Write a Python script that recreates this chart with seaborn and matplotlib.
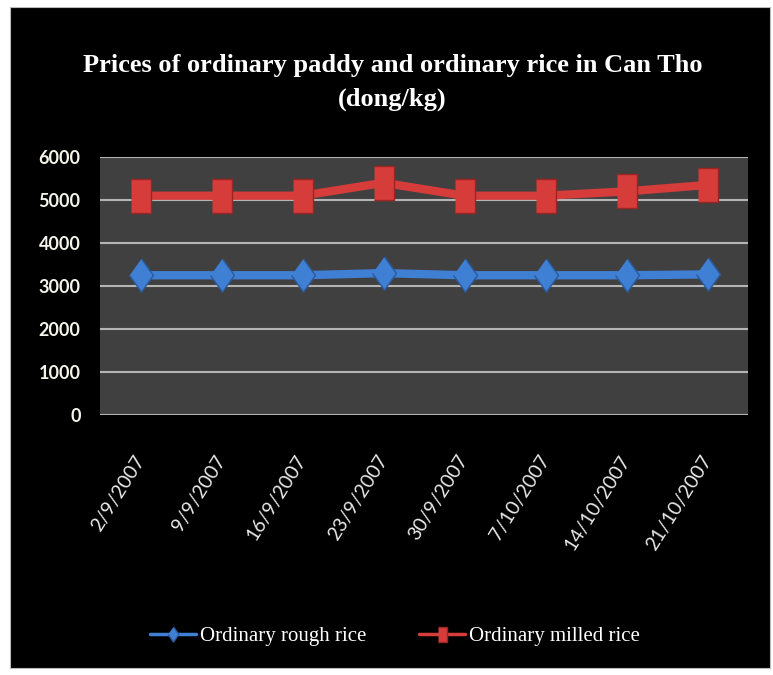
import matplotlib
matplotlib.use("Agg")
import matplotlib.pyplot as plt
from matplotlib.patches import Rectangle
import seaborn as sns
import pandas as pd

dates = ["2/9/2007", "9/9/2007", "16/9/2007", "23/9/2007",
         "30/9/2007", "7/10/2007", "14/10/2007", "21/10/2007"]
rough_rice = [3250, 3250, 3250, 3300, 3250, 3250, 3250, 3270]
milled_rice = [5100, 5100, 5100, 5400, 5100, 5100, 5200, 5350]
series_names = ["Ordinary rough rice", "Ordinary milled rice"]

df = pd.DataFrame({
    "date": dates * 2,
    "price": rough_rice + milled_rice,
    "series": [series_names[0]] * len(dates) + [series_names[1]] * len(dates),
})

sns.set_theme(style="dark")
plt.rcParams["font.family"] = ["Lato", "DejaVu Sans"]

fig, ax = plt.subplots(figsize=(7.73, 6.75), dpi=100)
fig.patch.set_facecolor("white")
# black chart frame inside a thin white border
fig.patches.append(Rectangle((10 / 773, 7 / 675), 760 / 773, 661 / 675,
                             transform=fig.transFigure, facecolor="black",
                             edgecolor="#bbbbbb", lw=0.8, zorder=-10))
ax.set_position([100 / 773, 1 - 415 / 675, 648 / 773, 258 / 675])
ax.set_facecolor("#404040")

diamond = [(0, 1), (0.72, 0), (0, -1), (-0.72, 0)]
tall_sq = [(-0.6, -1), (0.6, -1), (0.6, 1), (-0.6, 1)]
styles = {
    series_names[0]: dict(color="#3f7fd4", marker=diamond, mec="#2a5a9c", ms=24),
    series_names[1]: dict(color="#d63c3a", marker=tall_sq, mec="#9c2422", ms=24),
}
for name in series_names:
    st = styles[name]
    sns.lineplot(data=df[df["series"] == name], x="date", y="price", ax=ax,
                 color=st["color"], lw=6, marker=st["marker"],
                 markersize=st["ms"], markeredgecolor=st["mec"],
                 markeredgewidth=1, label=name, legend=False)

ax.set_xlim(-0.5, len(dates) - 0.5)
ax.set_ylim(0, 6000)
ax.set_yticks(range(0, 6001, 1000))
ax.grid(axis="y", color="#b4b4b4", lw=1.5)
ax.grid(axis="x", visible=False)
ax.set_axisbelow(True)
for s in ax.spines.values():
    s.set_visible(False)
ax.set_xlabel("")
ax.set_ylabel("")

ax.tick_params(axis="y", colors="white", labelsize=13, pad=14, length=0)
for lab in ax.get_yticklabels():
    lab.set_fontweight("bold")
    lab.set_color("#f4f4ea")
ax.tick_params(axis="x", colors="white", labelsize=14, pad=30, length=0)
for lab in ax.get_xticklabels():
    lab.set_rotation(58)
    lab.set_ha("right")
    lab.set_va("center")
    lab.set_rotation_mode("anchor")
    lab.set_color("#e8e8e8")

fig.text(0.508, 0.878, "Prices of ordinary paddy and ordinary rice in Can Tho\n(dong/kg)",
         ha="center", va="center", color="white", fontsize=19,
         fontweight="bold", family=["Liberation Serif", "DejaVu Serif"],
         linespacing=1.6)

handles, labels = ax.get_legend_handles_labels()
leg = fig.legend(handles, labels, loc="center", bbox_to_anchor=(395 / 773, 1 - 636 / 675),
                 ncol=2, frameon=False, markerscale=0.45, handlelength=2.2,
                 columnspacing=2.5, handletextpad=0.2,
                 prop={"family": ["Liberation Serif"], "size": 15})
for t in leg.get_texts():
    t.set_color("white")
for h in leg.legend_handles:
    h.set_linewidth(2.5)

fig.savefig("out.png", dpi=100, facecolor=fig.get_facecolor())
